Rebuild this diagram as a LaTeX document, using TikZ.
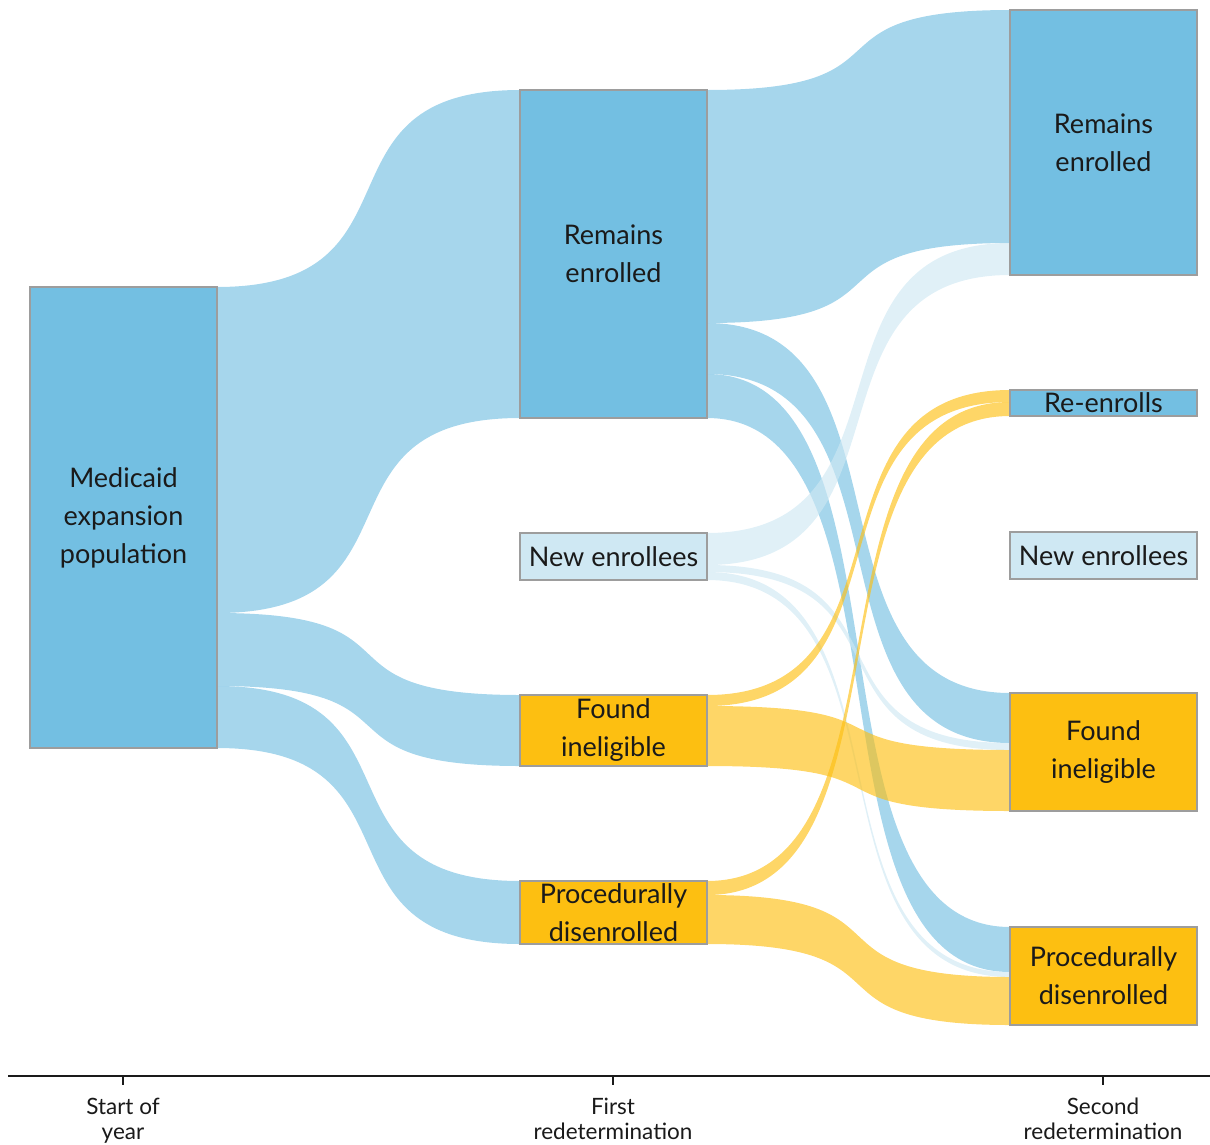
\documentclass[tikz,border=0pt]{standalone}
\usepackage{fontspec}
\setmainfont{Lato}
\usetikzlibrary{calc}

\definecolor{nodeblue}{HTML}{73BFE2}
\definecolor{paleblue}{HTML}{CFE8F3}
\definecolor{urbyellow}{HTML}{FDBF11}
\definecolor{boxgray}{HTML}{9D9D9D}
\definecolor{inkgray}{HTML}{1A1A1A}

\pgfdeclarelayer{bg}
\pgfsetlayers{bg,main}

\tikzset{
	box/.style={draw=boxgray, line width=2pt, inner sep=0pt, outer sep=0pt, minimum width=187pt},
	bluebox/.style={box, fill=nodeblue},
	newbox/.style={box, fill=paleblue},
	yellowbox/.style={box, fill=urbyellow},
	txt/.style={font=\fontsize{27}{38}\selectfont, align=center, text=inkgray, inner sep=0pt},
	blueflow/.style={fill=nodeblue, fill opacity=0.64},
	paleflow/.style={fill=paleblue, fill opacity=0.64},
	yellowflow/.style={fill=urbyellow, fill opacity=0.64},
	axis/.style={draw=inkgray, line width=2.5pt},
	ticklabel/.style={font=\fontsize{22.5}{25}\selectfont, align=center, text=inkgray, inner sep=0pt, anchor=north}
}

% band from src (offsets from its top) to dst (offsets from its top)
\newcommand{\band}[7]{%
	\fill[#1] ($(#2.north east)+(0,#3)$) .. controls +(215,0) and +(-215,0) .. ($(#5.north west)+(0,#6)$)
		-- ($(#5.north west)+(0,#7)$) .. controls +(-215,0) and +(215,0) .. ($(#2.north east)+(0,#4)$) -- cycle;}

\begin{document}
\begin{tikzpicture}[x=1pt, y=-1pt]
	\useasboundingbox (0,0) rectangle (1210,1144);

	% start of year
	\node (med)[bluebox, minimum height=461pt, label={[txt]center:Medicaid\\expansion\\population}] at (123.5,517.5) {};

	% first redetermination
	\node (rem1)[bluebox, minimum height=328pt, label={[txt]center:Remains\\enrolled}] at (613.5,254) {};
	\node (new1)[newbox, minimum height=47pt, label={[txt]center:New enrollees}] at (613.5,556.5) {};
	\node (fi1)[yellowbox, minimum height=71pt, label={[txt]center:Found\\ineligible}] at (613.5,730.5) {};
	\node (pd1)[yellowbox, minimum height=63pt, label={[txt]center:Procedurally\\disenrolled}] at (613.5,912.5) {};

	% second redetermination
	\node (rem2)[bluebox, minimum height=265pt, label={[txt]center:Remains\\enrolled}] at (1103.5,142.5) {};
	\node (re2)[bluebox, minimum height=26pt, label={[txt]center:Re-enrolls}] at (1103.5,403) {};
	\node (new2)[newbox, minimum height=47pt, label={[txt]center:New enrollees}] at (1103.5,555.5) {};
	\node (fi2)[yellowbox, minimum height=118pt, label={[txt]center:Found\\ineligible}] at (1103.5,752) {};
	\node (pd2)[yellowbox, minimum height=98pt, label={[txt]center:Procedurally\\disenrolled}] at (1103.5,976) {};

	\begin{pgfonlayer}{bg}
		\band{blueflow}{med}{0}{326}{rem1}{0}{328}
		\band{blueflow}{med}{326}{399}{fi1}{0}{71}
		\band{blueflow}{med}{399}{461}{pd1}{0}{63}

		\band{blueflow}{rem1}{0}{233}{rem2}{0}{233}
		\band{blueflow}{rem1}{233}{284}{fi2}{0}{50}
		\band{blueflow}{rem1}{284}{328}{pd2}{0}{45}

		\band{paleflow}{new1}{0}{32}{rem2}{233}{265}
		\band{paleflow}{new1}{32}{39}{fi2}{50}{57}
		\band{paleflow}{new1}{39}{47}{pd2}{45}{50}

		\band{yellowflow}{fi1}{0}{11}{re2}{0}{12}
		\band{yellowflow}{fi1}{11}{71}{fi2}{57}{118}
		\band{yellowflow}{pd1}{0}{14}{re2}{12}{26}
		\band{yellowflow}{pd1}{14}{63}{pd2}{50}{98}
	\end{pgfonlayer}

	% time axis
	\coordinate (axl) at (8,1076);
	\coordinate (axr) at (1210,1076);
	\draw[axis] (axl) -- (axr);
	\foreach \x/\n/\t in {123/tstart/{Start of\\year}, 613/tfirst/{First\\redetermination}, 1103/tsecond/{Second\\redetermination}}{
		\draw[axis] (\x,1076) -- (\x,1085) node (\n)[ticklabel, yshift=-12pt] {\t};
	}
\end{tikzpicture}
\end{document}
